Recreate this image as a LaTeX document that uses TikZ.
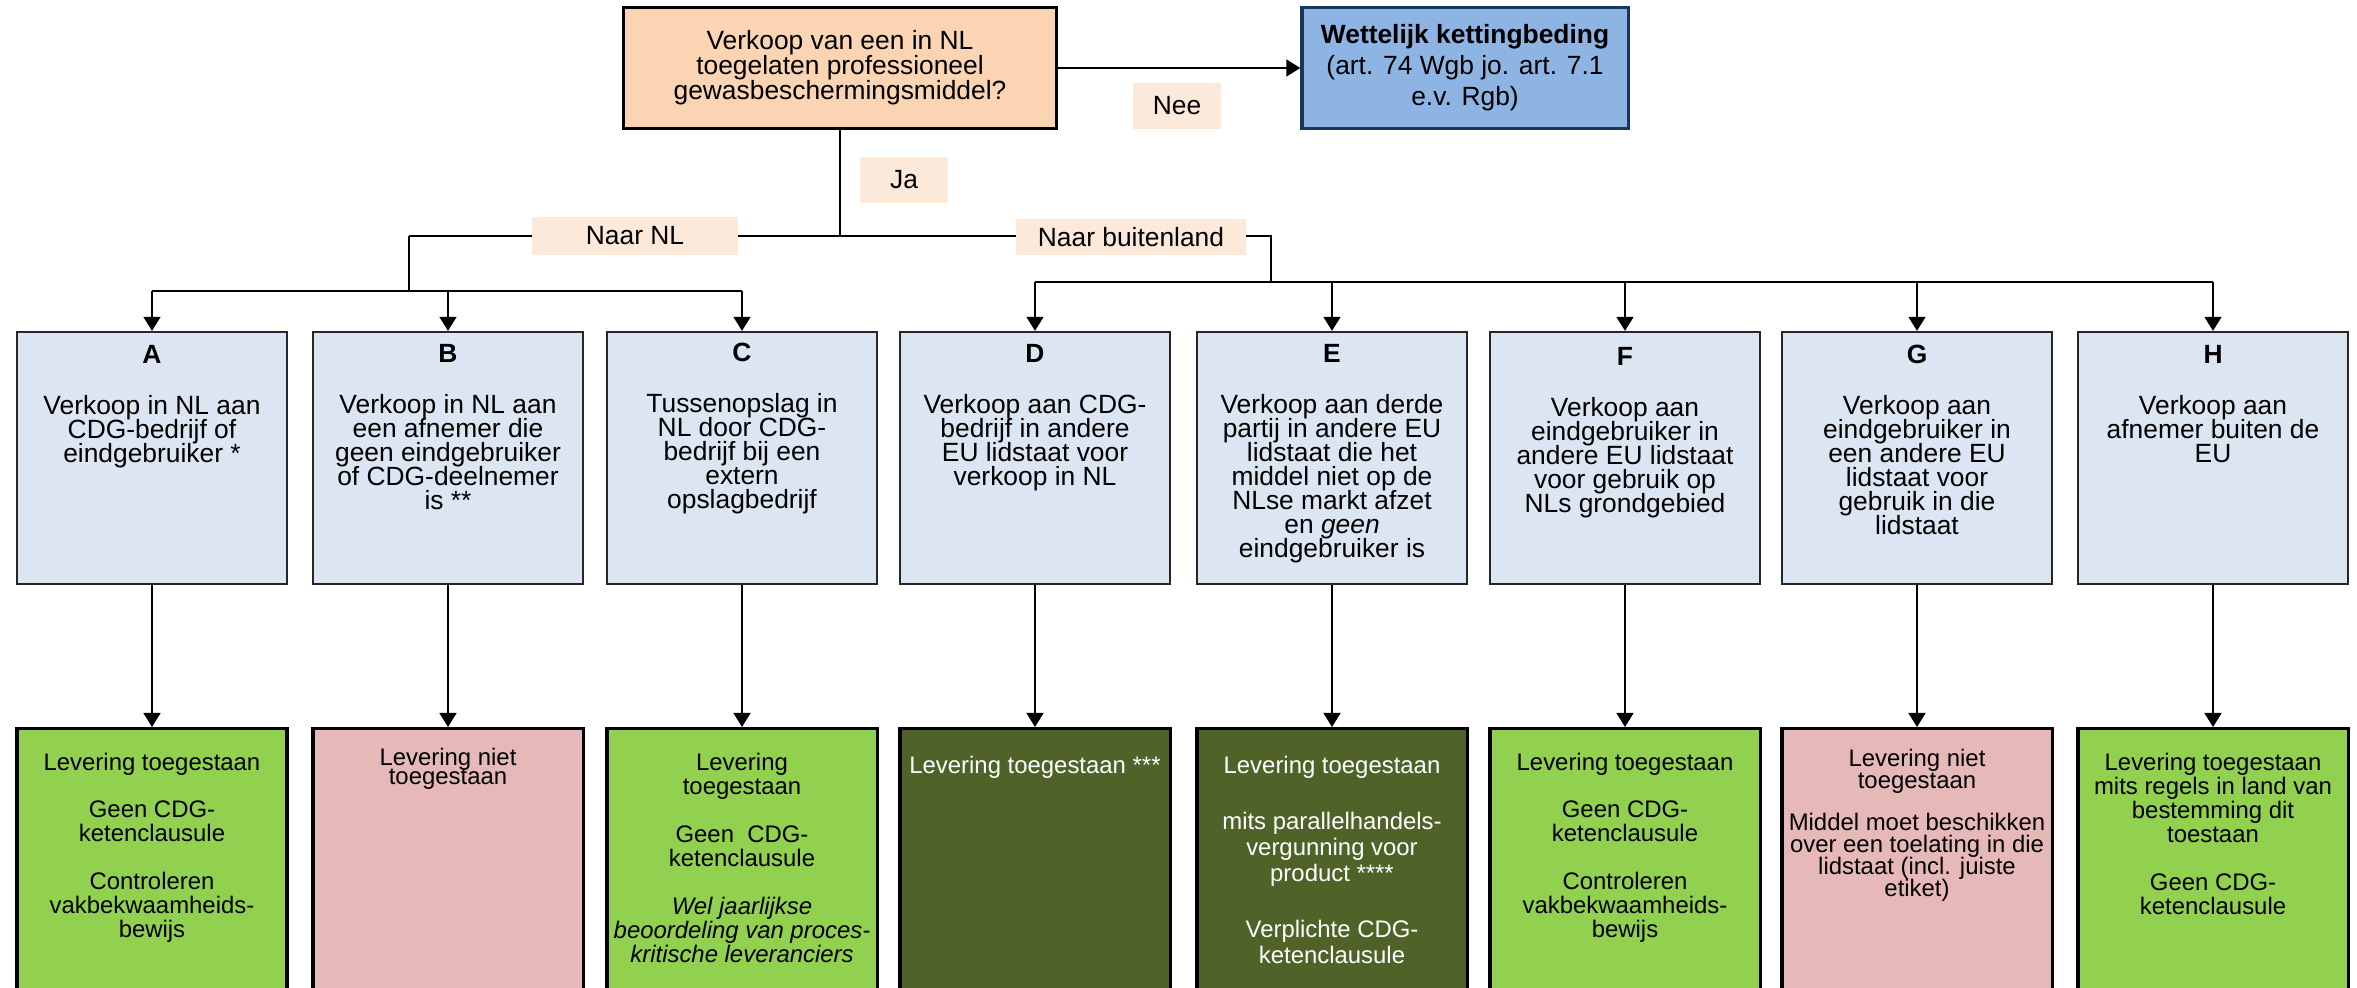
\documentclass[tikz,border=0pt]{standalone}
\usepackage{fontspec}
\setmainfont{Liberation Sans}
\usetikzlibrary{arrows.meta,positioning}
\definecolor{peach}{HTML}{FBD4B4}
\definecolor{tagpeach}{HTML}{FDE9D9}
\definecolor{lawblue}{HTML}{8EB4E3}
\definecolor{lawedge}{HTML}{17375E}
\definecolor{caseblue}{HTML}{DCE6F2}
\definecolor{okgreen}{HTML}{92D050}
\definecolor{darkgreen}{HTML}{4F6228}
\definecolor{nopink}{HTML}{E6B9B8}

\begin{document}
\begin{tikzpicture}[
    x=0.01cm, y=-0.01cm,
    font=\fontsize{7.5pt}{7.1pt}\selectfont,
    every node/.append style={execute at begin node={\lineskiplimit=-\maxdimen}},
    line width=0.6pt,
    question/.style = {draw, line width=0.8pt, fill=peach, align=center, minimum width=4.33cm, minimum height=1.21cm},
    lawbox/.style = {draw=lawedge, line width=0.9pt, fill=lawblue, align=center, minimum width=3.26cm, minimum height=1.21cm, font=\fontsize{7.5pt}{8.8pt}\selectfont},
    tag/.style = {fill=tagpeach, inner sep=0pt},
    casebox/.style = {draw=black!85, line width=0.6pt, fill=caseblue, minimum width=2.70cm, minimum height=2.52cm},
    casetext/.style = {align=center, inner sep=0pt, anchor=north, font=\fontsize{7.5pt}{6.83pt}\selectfont},
    resbox/.style = {draw, line width=0.9pt, anchor=north, minimum width=2.70cm, minimum height=3.2cm},
    okbox/.style = {resbox, fill=okgreen},
    nobox/.style = {resbox, fill=nopink},
    condbox/.style = {resbox, fill=darkgreen},
    restext/.style = {align=center, inner sep=0pt, anchor=north, font=\fontsize{6.8pt}{6.83pt}\selectfont},
    >={Triangle[length=4pt, width=4.8pt]}
  ]
  \useasboundingbox (0,0) rectangle (2357,987);

  \node[question] (q) at (840,68) {Verkoop van een in NL\\toegelaten professioneel\\gewasbeschermingsmiddel?};
  \node[lawbox] (law) at (1465,68) {\textbf{Wettelijk kettingbeding}\\(art. 74 Wgb jo. art. 7.1\\e.v. Rgb)};

  \node[casebox] (A) at (152,458) {};
  \node[casebox] (B) at (448,458) {};
  \node[casebox] (C) at (742,458) {};
  \node[casebox] (D) at (1035,458) {};
  \node[casebox] (E) at (1332,458) {};
  \node[casebox] (F) at (1625,458) {};
  \node[casebox] (G) at (1917,458) {};
  \node[casebox] (H) at (2213,458) {};

  \node[casetext] (A-txt) at (152,344) {\textbf{A}\\[0.27cm]Verkoop in NL aan\\CDG-bedrijf of\\eindgebruiker *};
  \node[casetext] (B-txt) at (448,343) {\textbf{B}\\[0.27cm]Verkoop in NL aan\\een afnemer die\\geen eindgebruiker\\of CDG-deelnemer\\is **};
  \node[casetext] (C-txt) at (742,342) {\textbf{C}\\[0.27cm]Tussenopslag in\\NL door CDG-\\bedrijf bij een\\extern\\opslagbedrijf};
  \node[casetext] (D-txt) at (1035,343) {\textbf{D}\\[0.27cm]Verkoop aan CDG-\\bedrijf in andere\\EU lidstaat voor\\verkoop in NL};
  \node[casetext] (E-txt) at (1332,343) {\textbf{E}\\[0.27cm]Verkoop aan derde\\partij in andere EU\\lidstaat die het\\middel niet op de\\NLse markt afzet\\en \textit{geen}\\eindgebruiker is};
  \node[casetext] (F-txt) at (1625,346) {\textbf{F}\\[0.27cm]Verkoop aan\\eindgebruiker in\\andere EU lidstaat\\voor gebruik op\\NLs grondgebied};
  \node[casetext] (G-txt) at (1917,344) {\textbf{G}\\[0.27cm]Verkoop aan\\eindgebruiker in\\een andere EU\\lidstaat voor\\gebruik in die\\lidstaat};
  \node[casetext] (H-txt) at (2213,344) {\textbf{H}\\[0.27cm]Verkoop aan\\afnemer buiten de\\EU};

  \node[okbox] (A-res) at (152,727) {};
  \node[nobox] (B-res) at (448,727) {};
  \node[okbox] (C-res) at (742,727) {};
  \node[condbox] (D-res) at (1035,727) {};
  \node[condbox] (E-res) at (1332,727) {};
  \node[okbox] (F-res) at (1625,727) {};
  \node[nobox] (G-res) at (1917,727) {};
  \node[okbox] (H-res) at (2213,727) {};

  \node[restext] (A-out) at (152,752) {Levering toegestaan\\[0.23cm]Geen CDG-\\ketenclausule\\[0.24cm]Controleren\\vakbekwaamheids-\\bewijs};
  \node[restext, font=\fontsize{6.8pt}{5.4pt}\selectfont] (B-out) at (448,747) {Levering niet\\toegestaan};
  \node[restext] (C-out) at (742,752) {Levering\\toegestaan\\[0.24cm]Geen~~CDG-\\ketenclausule\\[0.24cm]\textit{Wel jaarlijkse}\\\textit{beoordeling van proces-}\\\textit{kritische leveranciers}};
  \node[restext, text=white] (D-out) at (1035,755) {Levering toegestaan ***};
  \node[restext, text=white, font=\fontsize{6.8pt}{7.4pt}\selectfont] (E-out) at (1332,755) {Levering toegestaan\\[0.30cm]mits parallelhandels-\\vergunning voor\\product ****\\[0.30cm]Verplichte CDG-\\ketenclausule};
  \node[restext] (F-out) at (1625,752) {Levering toegestaan\\[0.23cm]Geen CDG-\\ketenclausule\\[0.24cm]Controleren\\vakbekwaamheids-\\bewijs};
  \node[restext, font=\fontsize{6.8pt}{6.26pt}\selectfont] (G-out) at (1917,748) {Levering niet\\toegestaan\\[0.20cm]Middel moet beschikken\\over een toelating in die\\lidstaat (incl. juiste\\etiket)};
  \node[restext] (H-out) at (2213,752) {Levering toegestaan\\mits regels in land van\\bestemming dit\\toestaan\\[0.24cm]Geen CDG-\\ketenclausule};

  \coordinate (nlturn) at (409,236);
  \coordinate (abroadturn) at (1271,236);
  \coordinate (nlbar) at (409,291);
  \coordinate (abroadbar) at (1271,282);

  \draw[->] (q) -- (law);
  \draw (q.south) -- (q.south |- nlturn);
  \draw (nlturn) -- (abroadturn) -- (abroadbar);
  \draw (nlturn) -- (nlbar);
  \draw (A.north |- nlbar) -- (C.north |- nlbar);
  \draw[->] (A.north |- nlbar) -- (A.north);
  \draw[->] (B.north |- nlbar) -- (B.north);
  \draw[->] (C.north |- nlbar) -- (C.north);
  \draw (D.north |- abroadbar) -- (H.north |- abroadbar);
  \draw[->] (D.north |- abroadbar) -- (D.north);
  \draw[->] (E.north |- abroadbar) -- (E.north);
  \draw[->] (F.north |- abroadbar) -- (F.north);
  \draw[->] (G.north |- abroadbar) -- (G.north);
  \draw[->] (H.north |- abroadbar) -- (H.north);

  \draw[->] (A) -- (A-res);
  \draw[->] (B) -- (B-res);
  \draw[->] (C) -- (C-res);
  \draw[->] (D) -- (D-res);
  \draw[->] (E) -- (E-res);
  \draw[->] (F) -- (F-res);
  \draw[->] (G) -- (G-res);
  \draw[->] (H) -- (H-res);

  \node[tag, minimum width=0.87cm, minimum height=0.46cm] (nee) at (1177,106) {Nee};
  \node[tag, minimum width=0.88cm, minimum height=0.45cm] (ja) at (904,180) {Ja};
  \node[tag, minimum width=2.06cm, minimum height=0.37cm] (nl) at (635,236) {Naar NL};
  \node[tag, minimum width=2.30cm, minimum height=0.35cm] (abroad) at (1131,237) {Naar buitenland};
\end{tikzpicture}
\end{document}
